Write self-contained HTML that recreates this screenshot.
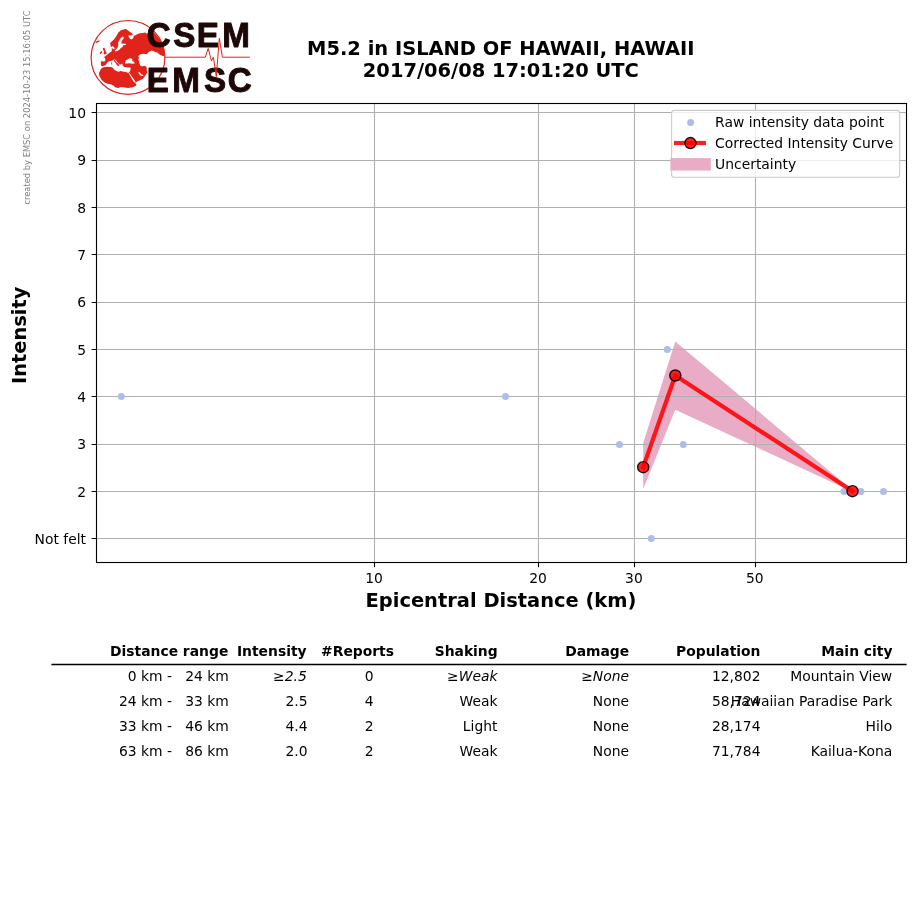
<!DOCTYPE html>
<html lang="en"><head><meta charset="utf-8"><title>M5.2 in ISLAND OF HAWAII, HAWAII</title>
<style>
html,body{margin:0;padding:0;background:#fff;}
body{width:915px;height:905px;overflow:hidden;position:relative;}
svg{position:absolute;left:0;top:0;display:block;}
text{font-family:"DejaVu Sans","Liberation Sans",sans-serif;font-size:13.89px;fill:#000;}
.b{font-weight:bold;}
.i{font-style:italic;}
.big{font-size:19.44px;font-weight:bold;}
.e{text-anchor:end;}.m{text-anchor:middle;}
.logo{font-family:"Liberation Sans",sans-serif;font-weight:bold;font-size:35.3px;fill:#1d0707;stroke:#1d0707;stroke-width:1px;stroke-linejoin:round;}
</style></head><body>
<svg width="915" height="905" viewBox="0 0 915 905">
<rect width="915" height="905" fill="#fff"/>
<defs><clipPath id="ax"><rect x="96.50" y="103.50" width="810.00" height="459.00"/></clipPath></defs>
<g clip-path="url(#ax)">
<polygon points="643.2,443.0 675.3,341.4 852.5,490.6 852.5,491.8 675.3,409.7 643.2,489.0" fill="#e9acc6"/>
<path d="M96.50 538.50H906.50M96.50 491.50H906.50M96.50 444.50H906.50M96.50 396.50H906.50M96.50 349.50H906.50M96.50 302.50H906.50M96.50 254.50H906.50M96.50 207.50H906.50M96.50 160.50H906.50M96.50 112.50H906.50M374.50 103.50V562.50M538.50 103.50V562.50M634.50 103.50V562.50M755.50 103.50V562.50" stroke="#b0b0b0" stroke-width="1.11" fill="none"/>
<g fill="#afbde9">
<circle cx="121.3" cy="396.50" r="3.5"/>
<circle cx="505.5" cy="396.50" r="3.5"/>
<circle cx="619.5" cy="444.50" r="3.5"/>
<circle cx="651.2" cy="444.50" r="3.5"/>
<circle cx="683.3" cy="444.50" r="3.5"/>
<circle cx="667.3" cy="349.50" r="3.5"/>
<circle cx="651.3" cy="538.50" r="3.5"/>
<circle cx="844.0" cy="491.50" r="3.5"/>
<circle cx="860.9" cy="491.50" r="3.5"/>
<circle cx="883.5" cy="491.50" r="3.5"/>
</g>
<polyline points="643.2,467.2 675.3,375.5 852.5,491.2" fill="none" stroke="#f00" stroke-opacity=".88" stroke-width="4.17" stroke-linejoin="round" stroke-linecap="square"/>
<circle cx="643.2" cy="467.2" r="5.55" fill="#f00" fill-opacity=".86" stroke="#000" stroke-opacity=".9" stroke-width="1.39"/>
<circle cx="675.3" cy="375.5" r="5.55" fill="#f00" fill-opacity=".86" stroke="#000" stroke-opacity=".9" stroke-width="1.39"/>
<circle cx="852.5" cy="491.2" r="5.55" fill="#f00" fill-opacity=".86" stroke="#000" stroke-opacity=".9" stroke-width="1.39"/>
</g>
<rect x="96.50" y="103.50" width="810.00" height="459.00" fill="none" stroke="#000" stroke-width="1.11"/>
<path d="M96.50 538.50h-4.86M96.50 491.50h-4.86M96.50 444.50h-4.86M96.50 396.50h-4.86M96.50 349.50h-4.86M96.50 302.50h-4.86M96.50 254.50h-4.86M96.50 207.50h-4.86M96.50 160.50h-4.86M96.50 112.50h-4.86M374.50 562.50v4.86M538.50 562.50v4.86M634.50 562.50v4.86M755.50 562.50v4.86" stroke="#000" stroke-width="1.11" fill="none"/>
<text class="e" x="86.0" y="496.71">2</text>
<text class="e" x="86.0" y="449.37">3</text>
<text class="e" x="86.0" y="402.03">4</text>
<text class="e" x="86.0" y="354.69">5</text>
<text class="e" x="86.0" y="307.35">6</text>
<text class="e" x="86.0" y="260.01">7</text>
<text class="e" x="86.0" y="212.67">8</text>
<text class="e" x="86.0" y="165.33">9</text>
<text class="e" x="86.0" y="117.99">10</text>
<text class="e" x="86.0" y="544.05">Not felt</text>
<text class="m" x="374.00" y="583.0">10</text>
<text class="m" x="538.00" y="583.0">20</text>
<text class="m" x="633.94" y="583.0">30</text>
<text class="m" x="754.80" y="583.0">50</text>
<text class="big m" x="501" y="606.6">Epicentral Distance (km)</text>
<text class="big m" transform="translate(26.4 335.3) rotate(-90)">Intensity</text>
<text class="big m" x="500.8" y="54.7">M5.2 in ISLAND OF HAWAII, HAWAII</text>
<text class="big m" x="500.8" y="76.8">2017/06/08 17:01:20 UTC</text>
<text transform="translate(30.3 204.6) rotate(-90)" style="font-size:8.33px;fill:#808080">created by EMSC on 2024-10-23 15:16:05 UTC</text>
<rect x="671.6" y="110.4" width="228.1" height="66.9" rx="2.8" fill="#fff" fill-opacity="0.8" stroke="#ccc" stroke-width="1.11"/>
<circle cx="690.6" cy="122.4" r="3.5" fill="#afbde9"/>
<path d="M676.1 143H703.9" stroke="#f00" stroke-opacity=".88" stroke-width="4.17" stroke-linecap="square"/>
<circle cx="690.4" cy="143.1" r="5.55" fill="#f00" fill-opacity=".86" stroke="#000" stroke-opacity=".9" stroke-width="1.39"/>
<rect x="670.4" y="158.1" width="40.4" height="12.5" fill="#e9acc6"/>
<text x="715.1" y="126.8">Raw intensity data point</text>
<text x="715.1" y="147.6">Corrected Intensity Curve</text>
<text x="715.1" y="168.5">Uncertainty</text>
<text class="b e" x="228.3" y="656.2">Distance range</text>
<text class="b e" x="306.6" y="656.2">Intensity</text>
<text class="b e" x="394.0" y="656.2">#Reports</text>
<text class="b e" x="497.7" y="656.2">Shaking</text>
<text class="b e" x="629.2" y="656.2">Damage</text>
<text class="b e" x="760.5" y="656.2">Population</text>
<text class="b e" x="892.5" y="656.2">Main city</text>
<path d="M51.4 664.5H906.6" stroke="#000" stroke-width="1.35"/>
<text class="e" x="228.9" y="680.8" xml:space="preserve">  0 km -   24 km</text>
<text class="e i" x="306.8" y="680.8" xml:space="preserve">≥2.5</text>
<text class="e" x="373.5" y="680.8" xml:space="preserve">0</text>
<text class="e i" x="497.5" y="680.8" xml:space="preserve">≥Weak</text>
<text class="e i" x="629.0" y="680.8" xml:space="preserve">≥None</text>
<text class="e" x="760.5" y="680.8" xml:space="preserve">12,802</text>
<text class="e" x="892.2" y="680.8" xml:space="preserve">Mountain View</text>
<text class="e" x="228.9" y="705.8" xml:space="preserve"> 24 km -   33 km</text>
<text class="e" x="307.6" y="705.8" xml:space="preserve">2.5</text>
<text class="e" x="373.5" y="705.8" xml:space="preserve">4</text>
<text class="e" x="497.5" y="705.8" xml:space="preserve">Weak</text>
<text class="e" x="629.0" y="705.8" xml:space="preserve">None</text>
<text class="e" x="760.5" y="705.8" xml:space="preserve">58,724</text>
<text class="e" x="892.2" y="705.8" xml:space="preserve">Hawaiian Paradise Park</text>
<text class="e" x="228.9" y="730.8" xml:space="preserve"> 33 km -   46 km</text>
<text class="e" x="307.6" y="730.8" xml:space="preserve">4.4</text>
<text class="e" x="373.5" y="730.8" xml:space="preserve">2</text>
<text class="e" x="497.5" y="730.8" xml:space="preserve">Light</text>
<text class="e" x="629.0" y="730.8" xml:space="preserve">None</text>
<text class="e" x="760.5" y="730.8" xml:space="preserve">28,174</text>
<text class="e" x="892.2" y="730.8" xml:space="preserve">Hilo</text>
<text class="e" x="228.9" y="755.8" xml:space="preserve"> 63 km -   86 km</text>
<text class="e" x="307.6" y="755.8" xml:space="preserve">2.0</text>
<text class="e" x="373.5" y="755.8" xml:space="preserve">2</text>
<text class="e" x="497.5" y="755.8" xml:space="preserve">Weak</text>
<text class="e" x="629.0" y="755.8" xml:space="preserve">None</text>
<text class="e" x="760.5" y="755.8" xml:space="preserve">71,784</text>
<text class="e" x="892.2" y="755.8" xml:space="preserve">Kailua-Kona</text>
<g id="logo">
<clipPath id="gl"><circle cx="128" cy="57.4" r="36.8"/></clipPath>
<g clip-path="url(#gl)">
<path d="M110.1 43.1L111.2 42.0L113.9 39.6L116.1 36.5L118.3 32.5L120.9 30.3L125.4 29.0L126.8 29.4L129.0 31.2L131.6 33.0L133.0 34.5L131.6 35.2L129.4 35.4L128.1 35.4L129.9 38.7L131.6 39.6L133.4 37.8L133.8 36.0L135.2 35.2L137.4 34.3L139.6 33.2L142.7 33.0L144.9 32.5L147.1 33.8L148.9 32.5L151.5 31.6L154.0 32.5L158.1 36.9L161.7 41.4L163.5 46.2L164.3 51.5L164.6 55.9L163.0 55.9L160.4 55.1L158.6 53.7L157.3 52.4L155.1 52.0L153.3 51.1L151.5 50.6L148.0 52.4L147.1 54.2L143.6 53.7L140.5 54.2L138.3 55.9L139.1 57.7L138.3 59.4L139.1 61.2L139.6 63.8L140.2 65.6L142.2 66.5L144.0 65.8L146.2 66.5L146.9 68.3L146.7 70.5L147.5 72.7L146.2 74.0L144.9 76.2L142.7 78.9L138.3 81.1L135.2 82.6L136.5 85.5L133.8 86.8L131.6 87.5L127.7 87.9L125.0 87.5L123.6 87.3L120.5 87.0L118.3 87.9L115.6 87.5L113.4 85.5L110.8 84.2L107.7 83.7L104.6 82.4L101.5 79.8L99.5 76.2L98.8 73.6L101.0 68.7L103.3 67.2L101.0 65.6L100.8 61.2L104.6 61.6L105.5 59.9L105.0 58.1L103.3 57.0L103.3 55.4L103.3 57.5L105.5 55.9L107.7 54.2L109.9 52.4L111.7 51.5L111.7 48.4L113.0 48.4L113.9 49.8L114.8 48.0L113.0 46.2L110.8 47.1ZM102.8 48.0L104.6 47.8L105.0 49.8L106.4 52.4L106.8 53.7L104.6 54.4L103.5 53.5L104.1 51.5L103.3 50.2ZM100.2 52.0L101.7 51.1L102.4 52.2L101.0 53.7L99.9 54.0ZM95.3 42.0L97.1 40.9L99.5 40.2L99.9 41.0L97.5 42.5L96.0 43.1Z" fill="#e1231c"/>
<path d="M122.9 36.6L124.0 37.8L122.7 39.6L121.6 41.4L121.2 43.6L125.4 43.8L126.2 44.4L125.4 45.1L122.9 45.6L122.5 47.1L120.9 48.0L119.6 49.5L117.4 51.1L115.4 51.4L114.8 50.4L116.5 48.9L117.8 47.1L118.3 44.4L118.1 42.7L119.2 40.5L120.9 37.8ZM101.9 66.3L105.0 65.6L105.9 64.7L106.6 63.4L107.7 62.1L109.4 61.2L111.7 60.7L113.4 59.9L114.3 59.2L115.9 60.1L117.8 62.7L120.1 64.9L120.9 64.1L122.3 63.8L122.9 66.0L124.5 66.9L127.6 67.6L130.0 67.6L130.7 67.8L130.3 70.5L129.0 72.7L127.7 72.7L125.0 71.8L128.5 71.8L125.4 72.0L122.7 71.4L120.5 70.9L118.7 71.8L116.5 70.9L113.9 69.6L113.2 68.3L112.1 67.2L107.7 66.8L103.3 67.2ZM125.0 62.5L125.9 60.3L127.7 59.4L129.4 58.3L131.2 58.5L132.5 59.0L132.1 60.7L134.3 62.1L134.7 63.4L132.1 63.8L129.4 63.2L126.8 63.6L125.0 63.4ZM128.8 73.6L129.6 73.3L135.4 81.5L134.9 82.6L133.8 82.0ZM138.3 72.2L139.6 72.0L141.4 74.4L143.6 75.1L142.7 75.9L140.5 75.4L138.9 73.8Z" fill="#fff"/>
<path d="M114.1 59.6L115.2 60.5L116.7 62.5L118.3 63.8L119.4 65.4L118.7 66.0L117.2 65.4L115.9 63.6L114.8 62.1L113.6 60.5ZM111.2 62.5L112.1 62.5L112.1 64.5L111.2 64.5Z" fill="#e1231c"/>
</g>
<circle cx="128" cy="57.4" r="36.9" fill="none" stroke="#e1231c" stroke-width="1.2"/>
<text class="logo" transform="translate(0 46.6) scale(0.94 1)" x="156.20 184.24 209.21 236.43">CSEM</text>
<text class="logo" transform="translate(0 91.8) scale(0.94 1)" x="156.02 183.29 216.90 242.40">EMSC</text>
<path d="M164.9 57.2H205.3L208.2 48.4L211.5 60.9L213.4 57.2L216.3 76.6L219.3 38.3L222.4 57.2H249.9" fill="none" stroke="#e1231c" stroke-width="1.0" stroke-linejoin="round"/>
</g>
</svg></body></html>
